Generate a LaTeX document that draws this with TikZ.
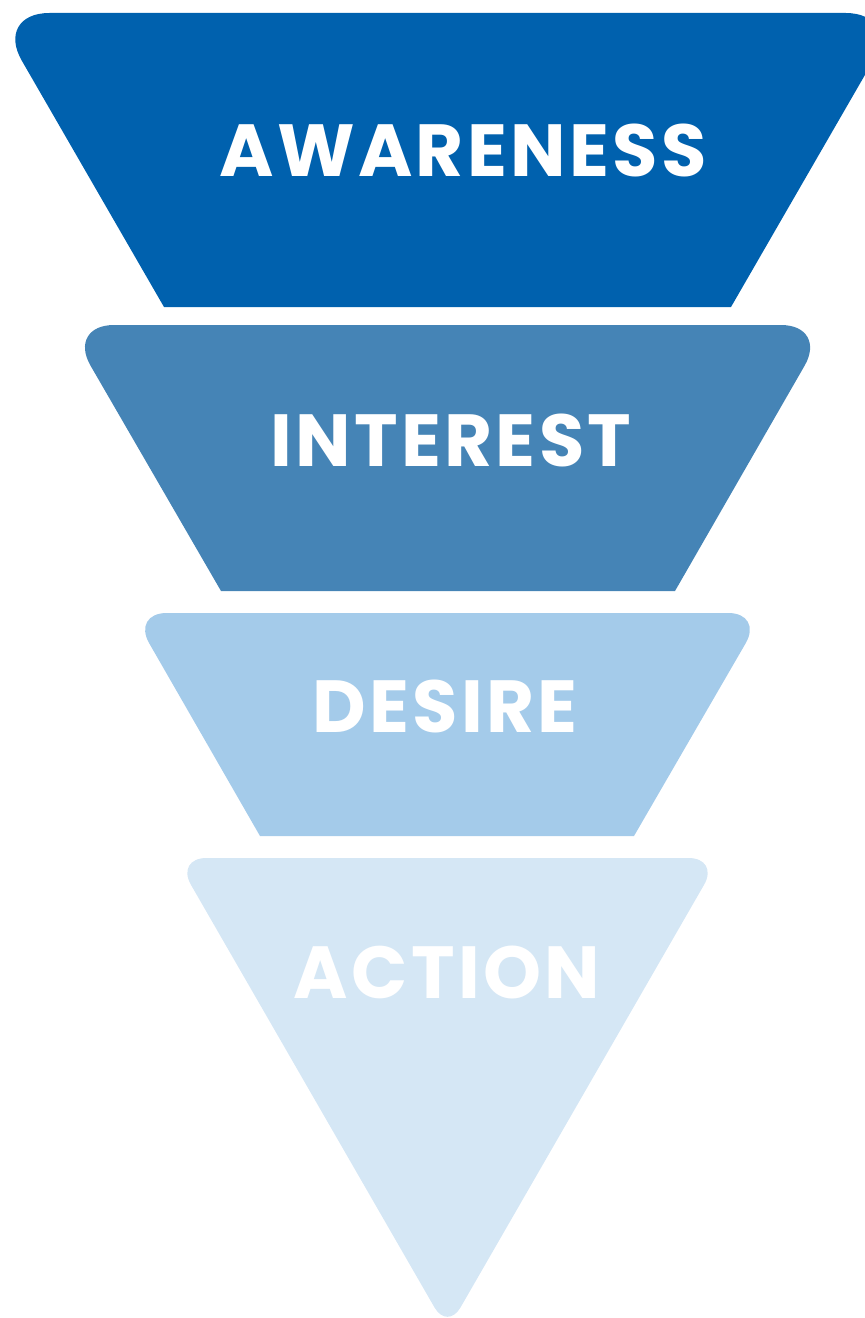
\documentclass[tikz,border=0pt]{standalone}
\usepackage{fontspec}
\newfontfamily\funnelfont{Poppins}[LetterSpace=4.5]
\definecolor{awareblue}{RGB}{0,97,174}
\definecolor{interestblue}{RGB}{69,132,182}
\definecolor{desireblue}{RGB}{164,203,234}
\definecolor{actionblue}{RGB}{213,231,245}
\begin{document}
\begin{tikzpicture}[x=0.02cm, y=-0.02cm,
  stage/.style={text=white, font=\funnelfont\bfseries\fontsize{42}{42}\selectfont}]
  \useasboundingbox (0,0) rectangle (865,1318);
  \clip (0,0) rectangle (865,1318);
  % funnel bands
  \fill[awareblue] (164,307) [rounded corners=1.1cm] -- (-5.7,13) -- (900.7,13) [sharp corners] -- (731,307) -- cycle;
  \fill[interestblue] (221,591) [rounded corners=0.94cm] -- (67,325) -- (828,325) [sharp corners] -- (675,591) -- cycle;
  \fill[desireblue] (260,836) [rounded corners=0.7cm] -- (131.8,613) -- (763.2,613) [sharp corners] -- (634,836) -- cycle;
  \fill[actionblue] (447.5,1330) [rounded corners=0.62cm] -- (175.5,858) -- (719.5,858) [rounded corners=0.52cm] -- cycle;
  % labels
  \node[stage] (aware) at (463,150) {AWARENESS};
  \node[stage] (interest) at (451,440) {INTEREST};
  \node[stage] (desire) at (445,706) {DESIRE};
  \node[stage] (action) at (447,972) {ACTION};
\end{tikzpicture}
\end{document}
